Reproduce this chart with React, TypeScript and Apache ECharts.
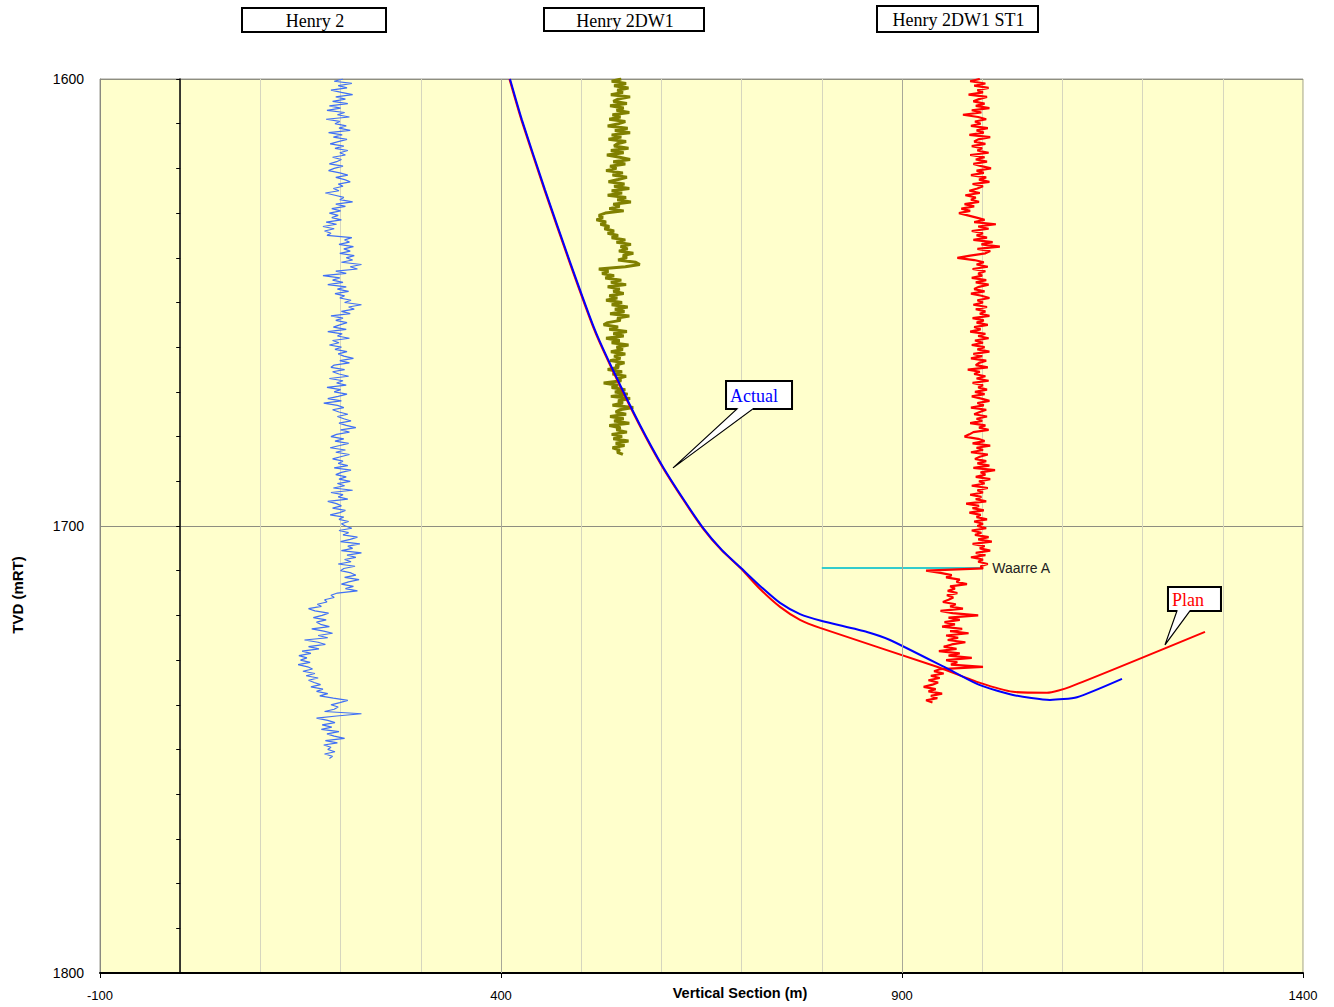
import React, { useEffect, useRef } from "react";
import * as echarts from "echarts";

// ---------- axes ----------
const X_MIN = -100;
const X_MAX = 1400;
const X_LABELS = [-100, 400, 900, 1400];
const X_MAJOR_LINES = [400, 900];
const Y_MIN = 1600;
const Y_MAX = 1800;
const X_NAME = "Vertical Section (m)";
const Y_NAME = "TVD (mRT)";

// ---------- well trajectories (vertical section, TVD) ----------
const ACTUAL_VS = [411.2, 426.2, 454.9, 486.0, 517.2, 539.6, 573.3, 602.0, 628.2, 651.9, 675.6, 699.3, 723.0, 747.9, 772.8, 799.0, 856.4, 885.0, 959.8, 997.3, 1038.4, 1084.5, 1118.2, 1174.3];
const ACTUAL_TVD = [1600, 1609.2, 1624.8, 1640.9, 1656.2, 1665.1, 1677.4, 1686.8, 1694.2, 1700.4, 1705.4, 1709.4, 1713.4, 1717.2, 1719.7, 1721.2, 1723.7, 1725.5, 1732.2, 1735.6, 1737.8, 1738.9, 1738.3, 1734.2];

const PLAN_VS = [410.5, 425.5, 454.2, 485.3, 516.5, 538.9, 572.6, 601.3, 627.5, 651.2, 674.9, 698.6, 723.0, 747.9, 772.8, 797.8, 943.6, 997.3, 1038.4, 1080.8, 1109.5, 1277.8];
const PLAN_TVD = [1600, 1609.2, 1624.8, 1640.9, 1656.2, 1665.1, 1677.4, 1686.8, 1694.2, 1700.4, 1705.4, 1709.4, 1714.1, 1718.1, 1721.0, 1722.8, 1731.5, 1735.1, 1737.1, 1737.3, 1736.0, 1723.7];

// ---------- Waarre A marker ----------
const WAARRE_NAME = "Waarre A";
const WAARRE_TVD = 1709.4;
const WAARRE_VS = [800, 1000];

// ---------- offset-well gamma logs (plotted as VS offset vs TVD) ----------
const HENRY2_NAME = "Henry 2";
const HENRY2_TOP = 1600;
const HENRY2_STEP = 0.5;
const HENRY2_VS = [
  203, 192, 214, 197, 208, 188, 201, 215, 194, 206,
  190, 209, 186, 200, 183, 205, 196, 211, 182, 199,
  193, 207, 198, 212, 185, 202, 191, 208, 197, 187,
  204, 193, 209, 199, 206, 190, 201, 195, 186, 203,
  192, 185, 199, 209, 194, 205, 212, 197, 203, 191,
  198, 181, 193, 204, 199, 215, 194, 206, 189, 200,
  186, 197, 189, 201, 182, 195, 178, 192, 180, 188,
  183, 214, 205, 211, 198, 216, 204, 212, 199, 217,
  207, 215, 201, 226, 212, 221, 194, 207, 178, 199,
  190, 203, 184, 207, 196, 210, 193, 205, 199, 213,
  205, 226, 210, 217, 201, 212, 188, 203, 194, 208,
  199, 191, 207, 184, 202, 196, 211, 190, 198, 186,
  201, 193, 208, 197, 204, 216, 199, 211, 192, 188,
  205, 190, 198, 210, 186, 203, 195, 207, 183, 200,
  192, 208, 197, 184, 201, 179, 196, 204, 190, 198,
  209, 196, 204, 213, 198, 207, 219, 200, 211, 195,
  188, 204, 193, 210, 199, 187, 206, 194, 211, 200,
  190, 203, 197, 209, 192, 213, 201, 194, 207, 198,
  212, 196, 205, 191, 215, 188, 203, 197, 209, 184,
  195, 201, 190, 206, 199, 187, 204, 198, 210, 201,
  206, 214, 198, 210, 203, 221, 212, 200, 224, 209,
  215, 201, 226, 208, 219, 205, 213, 197, 218, 204,
  200, 213, 219, 205, 223, 210, 201, 216, 206, 221,
  196, 188, 192, 180, 183, 171, 176, 160, 168, 185,
  177, 166, 182, 170, 175, 186, 164, 179, 190, 172,
  184, 155, 172, 181, 160, 173, 152, 163, 148, 158,
  150, 162, 147, 159, 165, 153, 168, 157, 172, 160,
  167, 175, 163, 178, 170, 184, 174, 191, 209, 199,
  188, 197, 192, 180, 226, 195, 170, 184, 193, 177,
  189, 176, 198, 183, 192, 205, 181, 196, 179, 188,
  184, 193, 180, 190, 186,
];

const DW1_NAME = "Henry 2DW1";
const DW1_TOP = 1600;
const DW1_STEP = 0.5;
const DW1_VS = [
  550, 538, 556, 541, 559, 545, 552, 537, 561, 546,
  540, 557, 536, 553, 544, 560, 539, 549, 535, 555,
  547, 533, 558, 542, 561, 538, 550, 534, 556, 545,
  541, 559, 537, 553, 532, 548, 561, 540, 555, 536,
  544, 531, 552, 539, 557, 546, 534, 554, 541, 560,
  538, 551, 533, 556, 545, 562, 540, 548, 535, 553,
  530, 522, 527, 519, 531, 524, 535, 529, 541, 533,
  546, 538, 555, 544, 562, 549, 558, 547, 565, 552,
  557, 546, 568, 573, 555, 522, 534, 526, 541, 530,
  550, 537, 556, 533, 548, 540, 553, 535, 545, 531,
  551, 538, 558, 542, 554, 536, 560, 545, 549, 533,
  528, 546, 535, 557, 540, 553, 531, 548, 538, 559,
  544, 552, 537, 555, 541, 549, 536, 554, 543, 547,
  533, 551, 539, 556, 545, 550, 528, 546, 538, 555,
  542, 558, 537, 561, 546, 552, 539, 565, 548, 543,
  556, 536, 553, 541, 560, 535, 549, 544, 557, 538,
  551, 540, 559, 543, 554, 539, 548, 545, 552,
];

const ST1_NAME = "Henry 2DW1 ST1";
const ST1_TOP = 1600;
const ST1_STEP = 0.5;
const ST1_VS = [
  997, 985, 1004, 990, 1008, 994, 1001, 983, 1006, 996,
  989, 1003, 992, 1009, 987, 999, 976, 995, 1005, 991,
  998, 986, 1007, 993, 1002, 984, 1010, 995, 990, 1004,
  987, 1000, 994, 1008, 985, 1003, 992, 1006, 989, 999,
  1011, 993, 1002, 986, 1005, 996, 1009, 988, 1001, 994,
  984, 997, 979, 992, 986, 996, 978, 990, 974, 985,
  971, 982, 993, 1003, 990, 1017, 995, 1008, 987, 1001,
  993, 1006, 989, 1013, 999, 1022, 994, 1010, 1004, 985,
  969, 990, 1002, 993, 1007, 988, 1004, 995, 1000, 987,
  1005, 992, 1008, 996, 990, 1003, 986, 999, 1009, 994,
  1001, 989, 1006, 992, 1004, 997, 1009, 988, 1002, 993,
  1007, 990, 998, 985, 1004, 995, 1008, 991, 1001, 987,
  1003, 994, 1009, 989, 1000, 986, 1005, 996, 992, 1007,
  982, 997, 990, 1004, 993, 1008, 988, 1001, 995, 1006,
  991, 1003, 987, 999, 1009, 994, 1002, 986, 1005, 997,
  990, 1006, 993, 1000, 985, 1004, 996, 1008, 989, 984,
  978, 995, 1003, 988, 1010, 993, 1001, 986, 1007, 997,
  991, 1005, 994, 1009, 989, 1016, 998, 1004, 992, 1010,
  996, 1003, 987, 1007, 994, 1001, 985, 999, 992, 1005,
  980, 996, 988, 1002, 984, 998, 993, 1006, 990, 1001,
  994, 1005, 987, 999, 991, 1008, 995, 1012, 988, 1003,
  997, 1010, 992, 1004, 986, 1001, 995, 1007, 998, 1001,
  930, 948, 962, 955, 972, 968, 981, 960, 966, 957,
  969, 956, 964, 958, 951, 967, 960, 976, 948, 963,
  995, 958, 972, 953, 966, 950, 975, 960, 983, 955,
  970, 957, 979, 962, 952, 968, 946, 972, 958, 987,
  955, 969, 961, 1001, 948, 940, 952, 936, 947, 933,
  945, 938, 927, 942, 933, 950, 936, 944, 930, 938,
];

// ---------- callouts (tip anchored in data space) ----------
const ACTUAL_LABEL = "Actual";
const ACTUAL_TIP = [614.5, 1687.0];
const PLAN_LABEL = "Plan";
const PLAN_TIP = [1227.9, 1726.6];

const SANS = "'Liberation Sans', Arial, sans-serif";
const SERIF = "'Liberation Serif', 'Times New Roman', serif";

function pairs(xs: number[], ys: number[]) {
  return xs.map((x, i) => [x, ys[i]]);
}
function logPairs(vals: number[], top: number, step: number) {
  return vals.map((v, i) => [v, top + i * step]);
}
const plain = (v: number) => String(v);

export default function App() {
  const ref = useRef<HTMLDivElement>(null);

  useEffect(() => {
    if (!ref.current) return;
    const chart = echarts.init(ref.current, null, { renderer: "svg" });

    const option: any = {
      animation: false,
      textStyle: { fontFamily: SANS },
      grid: {
        left: 100,
        right: 31,
        top: 79,
        bottom: 34,
        show: true,
        backgroundColor: "#FFFFCC",
        borderColor: "#9a9a90",
        borderWidth: 1,
      },
      xAxis: [
        {
          type: "value",
          min: X_MIN,
          max: X_MAX,
          interval: 100,
          position: "bottom",
          axisLine: { show: true, onZero: false, lineStyle: { color: "#000", width: 2 } },
          axisTick: { show: true, customValues: X_LABELS, length: 5, lineStyle: { color: "#000" } },
          axisLabel: { customValues: X_LABELS, formatter: plain, fontSize: 13, color: "#000", margin: 16, fontFamily: SANS },
          splitLine: { show: false },
        },
        {
          type: "value",
          min: X_MIN,
          max: X_MAX,
          interval: 100,
          position: "bottom",
          axisLine: { show: false, onZero: false },
          axisTick: { show: false },
          axisLabel: { show: false },
          splitLine: { show: true, lineStyle: { color: "#D6D6BE", width: 1 } },
        },
      ],
      yAxis: [
        {
          type: "value",
          min: Y_MIN,
          max: Y_MAX,
          interval: 100,
          inverse: true,
          position: "left",
          axisLine: { show: true, onZero: false, lineStyle: { color: "#8a8a80", width: 1 } },
          axisTick: { show: false },
          axisLabel: { formatter: plain, fontSize: 14, color: "#000", margin: 16, fontFamily: SANS },
          splitLine: { show: true, lineStyle: { color: "#8E8E80", width: 1 } },
        },
        {
          type: "value",
          min: Y_MIN,
          max: Y_MAX,
          interval: 10,
          inverse: true,
          position: "left",
          axisLine: { show: true, onZero: true, onZeroAxisIndex: 0, lineStyle: { color: "#000", width: 1.5 } },
          axisTick: { show: true, length: 4, lineStyle: { color: "#000" } },
          axisLabel: { show: false },
          splitLine: { show: false },
        },
      ],
      series: [
        {
          name: HENRY2_NAME,
          type: "line",
          data: logPairs(HENRY2_VS, HENRY2_TOP, HENRY2_STEP),
          symbol: "none",
          silent: true,
          lineStyle: { color: "#4070F5", width: 1.2 },
          markLine: {
            silent: true,
            symbol: ["none", "none"],
            label: { show: false },
            lineStyle: { color: "#A8A898", width: 1, type: "solid" },
            data: X_MAJOR_LINES.map((v) => ({ xAxis: v })),
          },
        },
        {
          name: DW1_NAME,
          type: "line",
          data: logPairs(DW1_VS, DW1_TOP, DW1_STEP),
          symbol: "none",
          silent: true,
          lineStyle: { color: "#808000", width: 3 },
        },
        {
          name: WAARRE_NAME,
          type: "line",
          data: WAARRE_VS.map((x) => [x, WAARRE_TVD]),
          symbol: "none",
          silent: true,
          lineStyle: { color: "#33CCCC", width: 2 },
          endLabel: {
            show: true,
            formatter: WAARRE_NAME,
            color: "#222",
            fontSize: 14,
            fontFamily: SANS,
            distance: 10,
          },
        },
        {
          name: ST1_NAME,
          type: "line",
          data: logPairs(ST1_VS, ST1_TOP, ST1_STEP),
          symbol: "none",
          silent: true,
          lineStyle: { color: "#FF0000", width: 2.2 },
        },
        {
          name: "Plan",
          type: "line",
          data: pairs(PLAN_VS, PLAN_TVD),
          symbol: "none",
          smooth: 0.2,
          silent: true,
          lineStyle: { color: "#FF0000", width: 2 },
        },
        {
          name: "Actual",
          type: "line",
          data: pairs(ACTUAL_VS, ACTUAL_TVD),
          symbol: "none",
          smooth: 0.2,
          silent: true,
          lineStyle: { color: "#0000FF", width: 2 },
        },
      ],
    };
    chart.setOption(option);

    const titleLayout = [
      { x: 242, y: 8, w: 144, h: 24 },
      { x: 544, y: 8, w: 160, h: 23 },
      { x: 877, y: 6, w: 161, h: 26 },
    ];
    const titleTexts = [HENRY2_NAME, DW1_NAME, ST1_NAME];

    const graphics: any[] = [];
    titleTexts.forEach((t, i) => {
      const b = titleLayout[i];
      graphics.push({
        type: "rect",
        shape: { x: b.x, y: b.y, width: b.w, height: b.h },
        style: { fill: "#fff", stroke: "#000", lineWidth: 2 },
        z: 100,
      });
      graphics.push({
        type: "text",
        x: b.x + b.w / 2 + 1,
        y: b.y + b.h / 2 + 1,
        style: {
          text: t,
          fontSize: 18,
          fontFamily: SERIF,
          fill: "#000",
          align: "center",
          verticalAlign: "middle",
          textAlign: "center",
          textVerticalAlign: "middle",
        },
        z: 101,
      });
    });

    graphics.push({
      type: "text",
      x: 740,
      y: 993,
      style: {
        text: X_NAME,
        fontSize: 14.5,
        fontWeight: "bold",
        fontFamily: SANS,
        fill: "#000",
        align: "center",
        verticalAlign: "middle",
        textAlign: "center",
        textVerticalAlign: "middle",
      },
    });
    graphics.push({
      type: "text",
      x: 17,
      y: 595,
      rotation: Math.PI / 2,
      style: {
        text: Y_NAME,
        fontSize: 15,
        fontWeight: "bold",
        fontFamily: SANS,
        fill: "#000",
        align: "center",
        verticalAlign: "middle",
        textAlign: "center",
        textVerticalAlign: "middle",
      },
    });

    const callout = (
      tip: number[],
      text: string,
      color: string,
      box: { l: number; r: number; t: number; b: number; b1: number; b2: number }
    ) => {
      const p = chart.convertToPixel({ gridIndex: 0 }, tip) as number[];
      const tx = p[0];
      const ty = p[1];
      const l = tx + box.l, r = tx + box.r, t = ty + box.t, b = ty + box.b;
      const b1 = tx + box.b1, b2 = tx + box.b2;
      graphics.push({
        type: "polygon",
        shape: { points: [[l, t], [r, t], [r, b], [b2, b], [tx, ty], [b1, b], [l, b]] },
        style: { fill: "#fff", stroke: "#000", lineWidth: 1.2 },
        z: 100,
      });
      graphics.push({
        type: "polyline",
        shape: { points: [[b2, b], [r, b], [r, t], [l, t], [l, b], [b1, b]] },
        style: { fill: null, stroke: "#000", lineWidth: 2 },
        z: 101,
      });
      graphics.push({
        type: "text",
        x: l + 4,
        y: (t + b) / 2 + 1,
        style: {
          text,
          fontSize: 18,
          fontFamily: SERIF,
          fill: color,
          align: "left",
          verticalAlign: "middle",
          textAlign: "left",
          textVerticalAlign: "middle",
        },
        z: 102,
      });
    };
    callout(ACTUAL_TIP, ACTUAL_LABEL, "#0000FF", { l: 53, r: 119, t: -87, b: -59, b1: 64, b2: 80 });
    callout(PLAN_TIP, PLAN_LABEL, "#FF0000", { l: 3, r: 56, t: -58, b: -34, b1: 12, b2: 25 });

    chart.setOption({ graphic: graphics });

    return () => chart.dispose();
  }, []);

  return (
    <div
      ref={ref}
      style={{ position: "absolute", left: 0, top: 0, width: 1334, height: 1007, background: "#fff" }}
    />
  );
}
